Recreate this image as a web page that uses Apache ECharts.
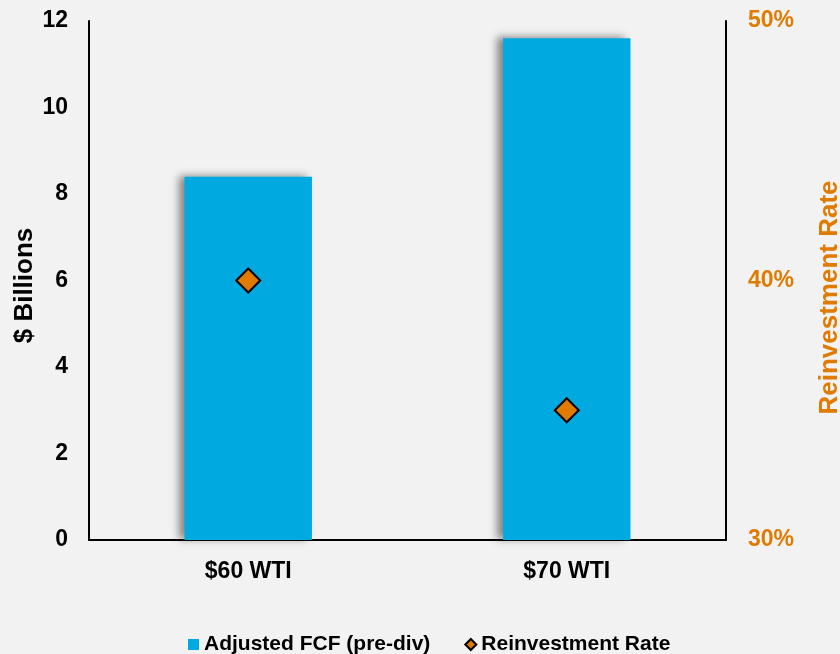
<!DOCTYPE html>
<html><head><meta charset="utf-8">
<script src="https://cdn.jsdelivr.net/npm/echarts@6/dist/echarts.min.js"></script>
<style>html,body{margin:0;padding:0;background:#f2f2f2}#c{width:840px;height:654px}</style>
</head><body><div id="c"></div>
<script>
const categories = ['$60 WTI', '$70 WTI'];
const fcfValues = [8.4, 11.6];
const reinvestValues = [40, 35];
const leftTicks = {min: 0, max: 12, interval: 2};
const rightTicks = {min: 30, max: 50, interval: 10};

const orange = '#e07b00';
const font = 'Liberation Sans, Arial, sans-serif';
const chart = echarts.init(document.getElementById('c'));
chart.setOption({
  backgroundColor: '#f2f2f2',
  animation: false,
  grid: {left: 89, right: 114, top: 21, bottom: 114, outerBoundsMode: 'none', containLabel: false},
  legend: {
    top: 629,
    left: 183,
    itemWidth: 11, itemHeight: 11, itemGap: 34,
    textStyle: {fontFamily: font, fontWeight: 'bold', fontSize: 21, color: '#000'},
    data: [{name: 'Adjusted FCF (pre-div)', icon: 'rect'}, {name: 'Reinvestment Rate', icon: 'diamond'}]
  },
  xAxis: {
    type: 'category', data: categories,
    axisLine: {lineStyle: {color: '#000', width: 2}},
    axisTick: {show: false},
    axisLabel: {fontFamily: font, fontWeight: 'bold', fontSize: 23, color: '#000', margin: 20}
  },
  yAxis: [{
    type: 'value', min: leftTicks.min, max: leftTicks.max, interval: leftTicks.interval,
    name: '$ Billions', nameLocation: 'middle', nameGap: 51, nameMoveOverlap: false,
    nameTextStyle: {fontFamily: font, fontWeight: 'bold', fontSize: 26, color: '#000', padding: [0, 10, 0, 0]},
    axisLine: {show: true, lineStyle: {color: '#000', width: 2}},
    axisTick: {show: false}, splitLine: {show: false},
    axisLabel: {fontFamily: font, fontWeight: 'bold', fontSize: 23, color: '#000', margin: 21}
  }, {
    type: 'value', min: rightTicks.min, max: rightTicks.max, interval: rightTicks.interval,
    name: 'Reinvestment Rate', nameLocation: 'middle', nameGap: 91, nameRotate: 90, nameMoveOverlap: false,
    nameTextStyle: {fontFamily: font, fontWeight: 'bold', fontSize: 26, color: orange, padding: [0, 34, 0, 0]},
    axisLine: {show: true, lineStyle: {color: '#000', width: 2}},
    axisTick: {show: false}, splitLine: {show: false},
    axisLabel: {fontFamily: font, fontWeight: 'bold', fontSize: 23, color: orange, margin: 22, formatter: '{value}%'}
  }],
  series: [{
    name: 'Adjusted FCF (pre-div)', type: 'bar', data: fcfValues, barWidth: '40%',
    itemStyle: {color: '#00a9e0', shadowBlur: 8, shadowOffsetX: -6, shadowOffsetY: -1, shadowColor: 'rgba(0,0,0,0.45)'}
  }, {
    name: 'Reinvestment Rate', type: 'scatter', yAxisIndex: 1, data: reinvestValues,
    symbol: 'diamond', symbolSize: 24,
    itemStyle: {color: orange, borderColor: '#000', borderWidth: 2, opacity: 1}
  }]
});
</script></body></html>
